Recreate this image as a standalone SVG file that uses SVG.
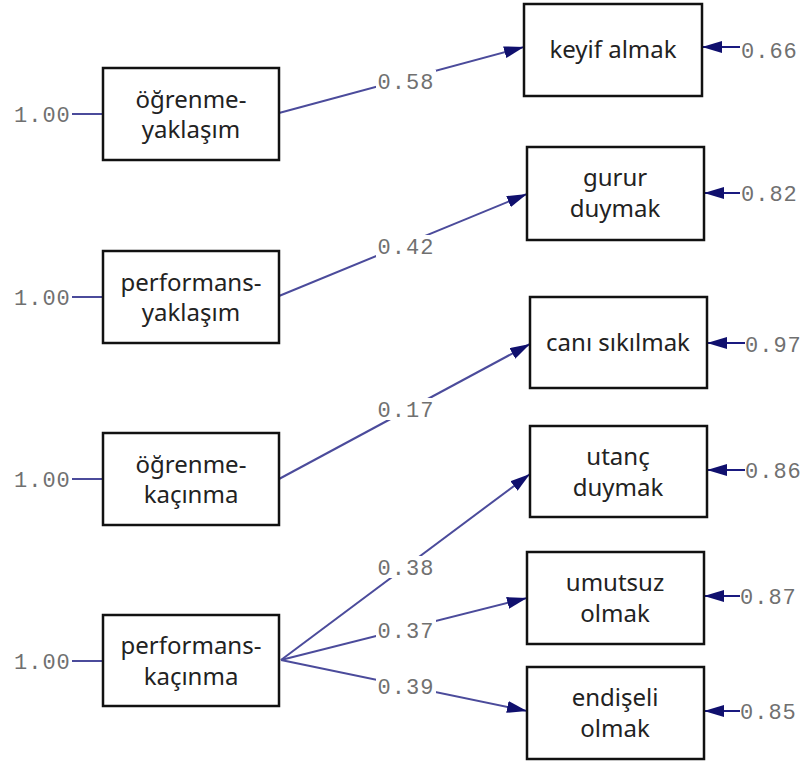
<svg xmlns="http://www.w3.org/2000/svg" width="802" height="762" viewBox="0 0 802 762">
<style>
.box{fill:#fff;stroke:#111;stroke-width:2.5}
.t{font-family:"Noto Sans","Open Sans",sans-serif;font-size:24px;fill:#222;text-anchor:middle}
.c{stroke:#4b4b9b;stroke-width:2;fill:none}
.e{stroke:#1a1a80;stroke-width:2;fill:none}
.n{font-family:"Liberation Mono",monospace;font-size:22px;fill:#707070;letter-spacing:1px}
.nc{text-anchor:middle}
.bg{fill:#fff}
</style>
<defs>
<marker id="ah" viewBox="0 0 20 12" refX="20" refY="6" markerWidth="20" markerHeight="12" markerUnits="userSpaceOnUse" orient="auto">
<path d="M0,0 L20,6 L0,12 Z" fill="#10106e"/>
</marker>
</defs>
<g id="connectors">
<line class="c" x1="72" y1="114" x2="103" y2="114"/>
<line class="c" x1="72" y1="297" x2="103" y2="297"/>
<line class="c" x1="72" y1="479" x2="103" y2="479"/>
<line class="c" x1="72" y1="661" x2="103" y2="661"/>
<line class="c" x1="279" y1="113" x2="524" y2="47" marker-end="url(#ah)"/>
<line class="c" x1="279" y1="296" x2="527" y2="194" marker-end="url(#ah)"/>
<line class="c" x1="279" y1="479" x2="530" y2="344" marker-end="url(#ah)"/>
<line class="c" x1="281" y1="660" x2="530" y2="474" marker-end="url(#ah)"/>
<line class="c" x1="281" y1="660" x2="527" y2="598" marker-end="url(#ah)"/>
<line class="c" x1="281" y1="660" x2="527" y2="711" marker-end="url(#ah)"/>
<line class="e" x1="740" y1="47" x2="702" y2="47" marker-end="url(#ah)"/>
<line class="e" x1="740" y1="193" x2="704" y2="193" marker-end="url(#ah)"/>
<line class="e" x1="745" y1="343" x2="707" y2="343" marker-end="url(#ah)"/>
<line class="e" x1="745" y1="470" x2="707" y2="470" marker-end="url(#ah)"/>
<line class="e" x1="740" y1="596" x2="704" y2="596" marker-end="url(#ah)"/>
<line class="e" x1="740" y1="711" x2="704" y2="711" marker-end="url(#ah)"/>
<rect class="bg" x="376" y="70" width="60" height="22"/>
<rect class="bg" x="376" y="235" width="60" height="22"/>
<rect class="bg" x="376" y="398" width="60" height="22"/>
<rect class="bg" x="376" y="556" width="60" height="22"/>
<rect class="bg" x="376" y="619" width="60" height="22"/>
<rect class="bg" x="376" y="675" width="60" height="22"/>
<text class="n nc" x="406" y="89">0.58</text>
<text class="n nc" x="406" y="254">0.42</text>
<text class="n nc" x="406" y="417">0.17</text>
<text class="n nc" x="406" y="575">0.38</text>
<text class="n nc" x="406" y="638">0.37</text>
<text class="n nc" x="406" y="694">0.39</text>
<text class="n" x="14" y="122">1.00</text>
<text class="n" x="14" y="305">1.00</text>
<text class="n" x="14" y="487">1.00</text>
<text class="n" x="14" y="669">1.00</text>
<text class="n" x="741" y="58">0.66</text>
<text class="n" x="741" y="201">0.82</text>
<text class="n" x="745" y="352">0.97</text>
<text class="n" x="745" y="478">0.86</text>
<text class="n" x="740" y="604">0.87</text>
<text class="n" x="740" y="719">0.85</text>
</g>
<g id="n1"><rect class="box" x="103" y="68" width="176" height="92"/><text class="t" x="191" y="108">öğrenme-</text><text class="t" x="191" y="138">yaklaşım</text></g>
<g id="n2"><rect class="box" x="103" y="251" width="176" height="92"/><text class="t" x="191" y="291">performans-</text><text class="t" x="191" y="321">yaklaşım</text></g>
<g id="n3"><rect class="box" x="103" y="433" width="176" height="92"/><text class="t" x="191" y="473">öğrenme-</text><text class="t" x="191" y="503">kaçınma</text></g>
<g id="n4"><rect class="box" x="103" y="615" width="176" height="91"/><text class="t" x="191" y="654">performans-</text><text class="t" x="191" y="685">kaçınma</text></g>
<g id="n5"><rect class="box" x="524" y="4" width="178" height="92"/><text class="t" x="613" y="58">keyif almak</text></g>
<g id="n6"><rect class="box" x="527" y="147" width="177" height="93"/><text class="t" x="615" y="186">gurur</text><text class="t" x="615" y="217">duymak</text></g>
<g id="n7"><rect class="box" x="530" y="297" width="177" height="91"/><text class="t" x="618" y="351">canı sıkılmak</text></g>
<g id="n8"><rect class="box" x="530" y="426" width="177" height="91"/><text class="t" x="618" y="465">utanç</text><text class="t" x="618" y="496">duymak</text></g>
<g id="n9"><rect class="box" x="527" y="552" width="177" height="92"/><text class="t" x="615" y="591">umutsuz</text><text class="t" x="615" y="622">olmak</text></g>
<g id="n10"><rect class="box" x="527" y="667" width="177" height="92"/><text class="t" x="615" y="706">endişeli</text><text class="t" x="615" y="737">olmak</text></g>
</svg>
